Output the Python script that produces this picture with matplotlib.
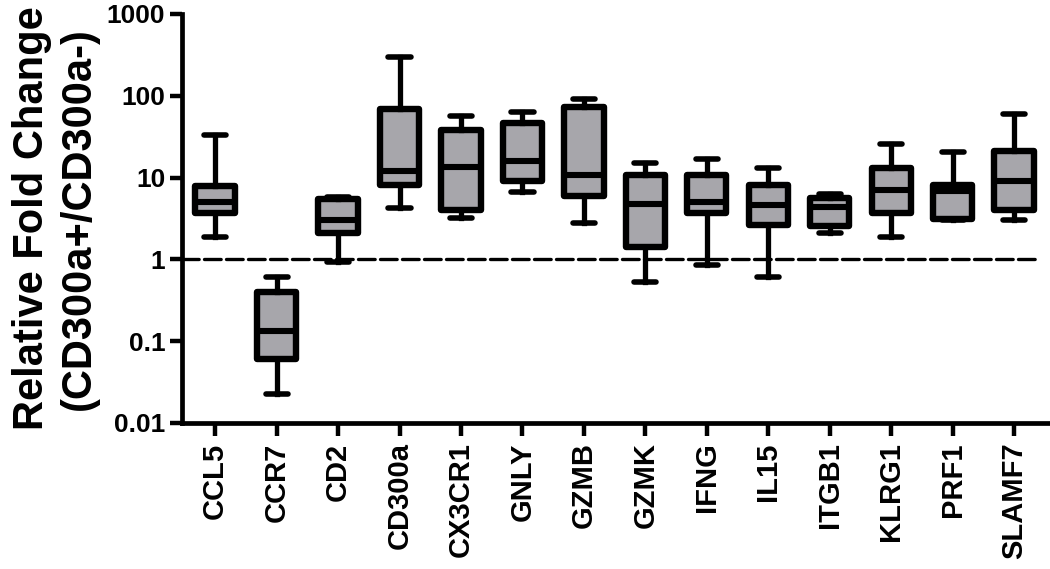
import matplotlib
matplotlib.use("Agg")
import matplotlib.pyplot as plt

plt.rcParams["font.family"] = ["Liberation Sans", "DejaVu Sans"]
plt.rcParams["font.weight"] = "bold"

DPI = 100

genes = ["CCL5", "CCR7", "CD2", "CD300a", "CX3CR1", "GNLY", "GZMB",
         "GZMK", "IFNG", "IL15", "ITGB1", "KLRG1", "PRF1", "SLAMF7"]
whisker_low = [1.87, 0.0226, 0.94, 4.2, 3.2, 6.6, 2.8, 0.53, 0.85, 0.615, 2.11, 1.89, 2.99, 2.99]
q1 = [3.7, 0.060, 2.13, 8.2, 4.07, 9.0, 5.9, 1.43, 3.64, 2.67, 2.55, 3.64, 3.16, 4.0]
median = [5.1, 0.134, 3.07, 11.9, 13.4, 15.8, 10.9, 4.7, 5.0, 4.6, 4.4, 7.0, 6.9, 9.0]
q3 = [7.8, 0.40, 5.4, 69, 37.8, 46.4, 72.8, 10.7, 10.9, 8.06, 5.65, 13.1, 8.2, 20.9]
whisker_high = [32.8, 0.61, 5.8, 297, 57.4, 63, 91, 15.1, 16.9, 13.1, 6.3, 26, 20.4, 60]

stats = [
    {"label": g, "whislo": lo, "q1": a, "med": m, "q3": b, "whishi": hi, "fliers": []}
    for g, lo, a, m, b, hi in zip(genes, whisker_low, q1, median, q3, whisker_high)
]

fig = plt.figure(figsize=(1050 / DPI, 569 / DPI), dpi=DPI)
ax = fig.add_axes([0.1733, 0.2566, 0.8247, 0.7188])

ax.bxp(
    stats,
    positions=range(len(genes)),
    widths=0.64,
    capwidths=0.36,
    patch_artist=True,
    showfliers=False,
    boxprops={"facecolor": "#a7a6ab", "edgecolor": "black", "linewidth": 4.6,
              "joinstyle": "round"},
    medianprops={"color": "black", "linewidth": 4.4},
    whiskerprops={"color": "black", "linewidth": 3.8},
    capprops={"color": "black", "linewidth": 4.0, "solid_capstyle": "round"},
)

ax.axhline(1, xmin=0, xmax=0.985, color="black", linewidth=2.4,
           linestyle=(0, (5.0, 1.6)), dash_capstyle="round", zorder=0)

ax.set_yscale("log")
ax.set_ylim(0.01, 1000)
ax.set_xlim(-0.54, 13.55)
ax.set_yticks([0.01, 0.1, 1, 10, 100, 1000])
ax.set_yticklabels(["0.01", "0.1", "1", "10", "100", "1000"])
ax.minorticks_off()
ax.set_xticks(range(len(genes)))
ax.set_xticklabels(genes, rotation=90, fontsize=21, fontweight="bold")
ax.tick_params(axis="y", labelsize=19, width=3.2, length=9, pad=3)
ax.tick_params(axis="x", width=3.2, length=9, pad=5)

for side in ["top", "right"]:
    ax.spines[side].set_visible(False)
for side in ["left", "bottom"]:
    ax.spines[side].set_linewidth(3.4)

ax.set_ylabel("Relative Fold Change\n(CD300a+/CD300a-)", fontsize=30,
              fontweight="bold", linespacing=1.2, labelpad=6)

fig.savefig("out.png", dpi=DPI)
